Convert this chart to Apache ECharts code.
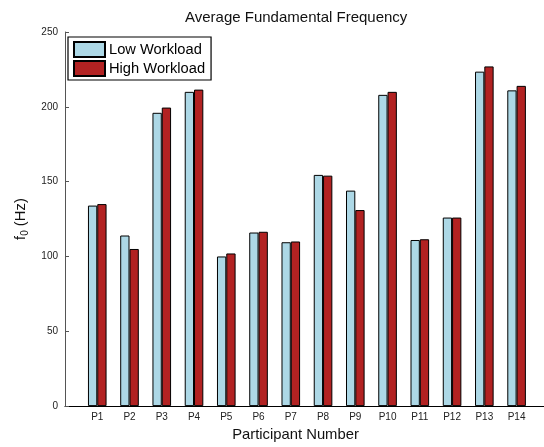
<!DOCTYPE html>
<html>
<head>
<meta charset="utf-8">
<script src="https://cdn.jsdelivr.net/npm/echarts@6/dist/echarts.min.js"></script>
<style>
html,body{margin:0;padding:0;background:#fff;}
#chart{width:544px;height:447px;}
</style>
</head>
<body>
<div id="chart"></div>
<script>
const participants = ['P1','P2','P3','P4','P5','P6','P7','P8','P9','P10','P11','P12','P13','P14'];
const lowWorkload = [134, 114, 196, 210, 100, 116, 109.5, 154.5, 144, 208, 111, 126, 223.5, 211];
const highWorkload = [135, 105, 199.5, 211.5, 102, 116.5, 110, 154, 131, 210, 111.5, 126, 227, 214];
const yTicks = [0, 50, 100, 150, 200, 250];

const FONT = '"Liberation Sans", Arial, Helvetica, sans-serif';
const toPairs = arr => arr.map((v, i) => [i + 1, v]);

const chart = echarts.init(document.getElementById('chart'), null, {renderer: 'canvas'});
chart.setOption({
  backgroundColor: '#fff',
  animation: false,
  textStyle: {fontFamily: FONT},
  title: {
    text: 'Average Fundamental Frequency',
    left: 185, top: 10, padding: 0,
    textStyle: {fontSize: 15, fontWeight: 'normal', color: '#111', fontFamily: FONT}
  },
  legend: {
    orient: 'vertical',
    left: 68, top: 37,
    padding: [4, 6, 3, 5],
    itemWidth: 31, itemHeight: 15, itemGap: 2,
    borderColor: '#000', borderWidth: 1.2,
    backgroundColor: '#fff',
    icon: 'rect',
    textStyle: {fontSize: 14.7, color: '#000', fontFamily: FONT, padding: [0, 0, 0, -1]},
    data: ['Low Workload', 'High Workload']
  },
  grid: {left: 65, right: 0, top: 32, bottom: 34, containLabel: false},
  xAxis: {
    type: 'value',
    min: 0, max: 14.85, interval: 1,
    axisLine: {show: true, onZero: false, lineStyle: {color: '#000', width: 1.2}},
    axisTick: {show: false},
    splitLine: {show: false},
    axisLabel: {
      fontSize: 10, color: '#222', margin: 6, fontFamily: FONT,
      showMinLabel: false, showMaxLabel: false,
      formatter: v => participants[Math.round(v) - 1] || ''
    },
    name: 'Participant Number',
    nameLocation: 'middle',
    nameGap: 17,
    nameTextStyle: {fontSize: 14.8, color: '#111', fontFamily: FONT, padding: [0, 18, 0, 0]}
  },
  yAxis: {
    type: 'value',
    min: yTicks[0], max: yTicks[yTicks.length - 1], interval: 50,
    axisLine: {show: true, lineStyle: {color: '#555', width: 1}},
    axisTick: {show: true, inside: true, length: 4, lineStyle: {color: '#555'}},
    axisLabel: {fontSize: 10, color: '#222', margin: 7, fontFamily: FONT},
    splitLine: {show: false},
    name: '{f|f}{s|0}{f| (Hz)}',
    nameLocation: 'middle',
    nameGap: 30,
    nameTextStyle: {
      color: '#111', fontFamily: FONT,
      rich: {
        f: {fontSize: 14.8, color: '#111', fontFamily: FONT, verticalAlign: 'middle'},
        s: {fontSize: 10, color: '#111', fontFamily: FONT, verticalAlign: 'middle', padding: [9, 0, 0, 0]}
      }
    }
  },
  series: [
    {
      name: 'Low Workload', type: 'bar',
      data: toPairs(lowWorkload),
      barWidth: 9.3, barGap: '0%',
      itemStyle: {color: '#ADD8E6', borderColor: '#000', borderWidth: 1}
    },
    {
      name: 'High Workload', type: 'bar',
      data: toPairs(highWorkload),
      barWidth: 9.3, barGap: '0%',
      itemStyle: {color: '#B22222', borderColor: '#000', borderWidth: 1}
    }
  ]
});
</script>
</body>
</html>
